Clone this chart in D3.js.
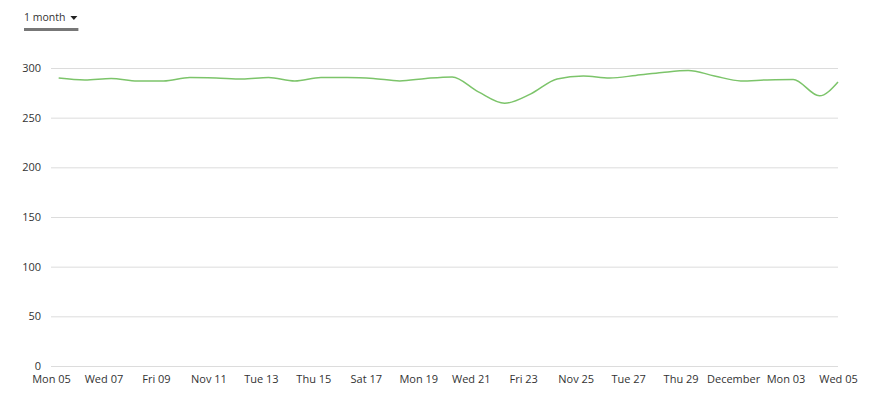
<!DOCTYPE html>
<html>
<head>
<meta charset="utf-8">
<script src="https://cdn.jsdelivr.net/npm/d3@7"></script>
<style>
  body { margin: 0; background: #fff; }
  text { font-family: "Open Sans", "Noto Sans", sans-serif; }
</style>
</head>
<body>
<svg width="869" height="398"></svg>
<script>
const dates = [
  "2018-11-05T07:00", "2018-11-06T07:00", "2018-11-07T07:00", "2018-11-08T07:00",
  "2018-11-09T07:00", "2018-11-10T07:00", "2018-11-11T07:00", "2018-11-12T07:00",
  "2018-11-13T07:00", "2018-11-14T07:00", "2018-11-15T07:00", "2018-11-16T07:00",
  "2018-11-17T07:00", "2018-11-18T07:00", "2018-11-19T07:00", "2018-11-20T07:00",
  "2018-11-21T07:00", "2018-11-22T07:00", "2018-11-23T07:00", "2018-11-24T07:00",
  "2018-11-25T07:00", "2018-11-26T07:00", "2018-11-27T07:00", "2018-11-28T07:00",
  "2018-11-29T07:00", "2018-11-30T07:00", "2018-12-01T07:00", "2018-12-02T07:00",
  "2018-12-03T07:00", "2018-12-04T07:00", "2018-12-05T00:00"
];
const values = [
  290, 288, 289.5, 287, 287, 290.5, 290, 289, 290.5, 287,
  290.5, 290.5, 289.5, 287, 289.5, 291, 276, 264.5, 274, 289,
  292, 290, 292.5, 295.5, 297.5, 292, 287, 288, 288.5, 272,
  286
];
const yTicks = [0, 50, 100, 150, 200, 250, 300];
const rangeLabel = "1 month";

const parse = d3.timeParse("%Y-%m-%dT%H:%M");
const data = dates.map((d, i) => ({ date: parse(d), value: values[i] }));

const svg = d3.select("svg");
const width = parseInt(svg.attr("width"));
const height = parseInt(svg.attr("height"));
const margin = { top: 68, right: 31, bottom: 32, left: 51 };

const x = d3.scaleTime()
  .domain([new Date(2018, 10, 5), new Date(2018, 11, 5)])
  .range([margin.left, width - margin.right]);

const y = d3.scaleLinear()
  .domain([0, 300])
  .range([height - margin.bottom, margin.top]);

// gridlines + y labels
const yAxis = svg.append("g")
  .attr("transform", `translate(${margin.left},0)`)
  .call(d3.axisLeft(y).tickValues(yTicks).tickSize(-(width - margin.left - margin.right)).tickPadding(10));
yAxis.select(".domain").remove();
yAxis.selectAll(".tick line").attr("stroke", "#dcdcdc");
yAxis.selectAll(".tick text").attr("fill", "#333").attr("font-size", 11);

// x labels
const xAxis = svg.append("g")
  .attr("transform", `translate(0,${height - margin.bottom})`)
  .call(d3.axisBottom(x).ticks(d3.timeDay.every(2)).tickSize(0).tickPadding(9));
xAxis.select(".domain").remove();
xAxis.selectAll(".tick text").attr("fill", "#333").attr("font-size", 11);

// line
const line = d3.line()
  .x(d => x(d.date))
  .y(d => y(d.value))
  .curve(d3.curveMonotoneX);

svg.append("path")
  .datum(data)
  .attr("fill", "none")
  .attr("stroke", "#7cc46a")
  .attr("stroke-width", 1.5)
  .attr("d", line);

// range selector
const sel = svg.append("g").attr("transform", "translate(24,0)");
const label = sel.append("text")
  .attr("x", 0)
  .attr("y", 21)
  .attr("font-size", 10.5)
  .attr("fill", "#333")
  .text(rangeLabel);
const tx = Math.max(45, label.node().getComputedTextLength() + 5);
sel.append("path")
  .attr("d", `M${tx},16 L${tx + 7},16 L${tx + 3.5},20 Z`)
  .attr("fill", "#222");
sel.append("rect")
  .attr("x", 0)
  .attr("y", 28)
  .attr("width", Math.max(53, tx + 8))
  .attr("height", 3)
  .attr("fill", "#777");
</script>
</body>
</html>
